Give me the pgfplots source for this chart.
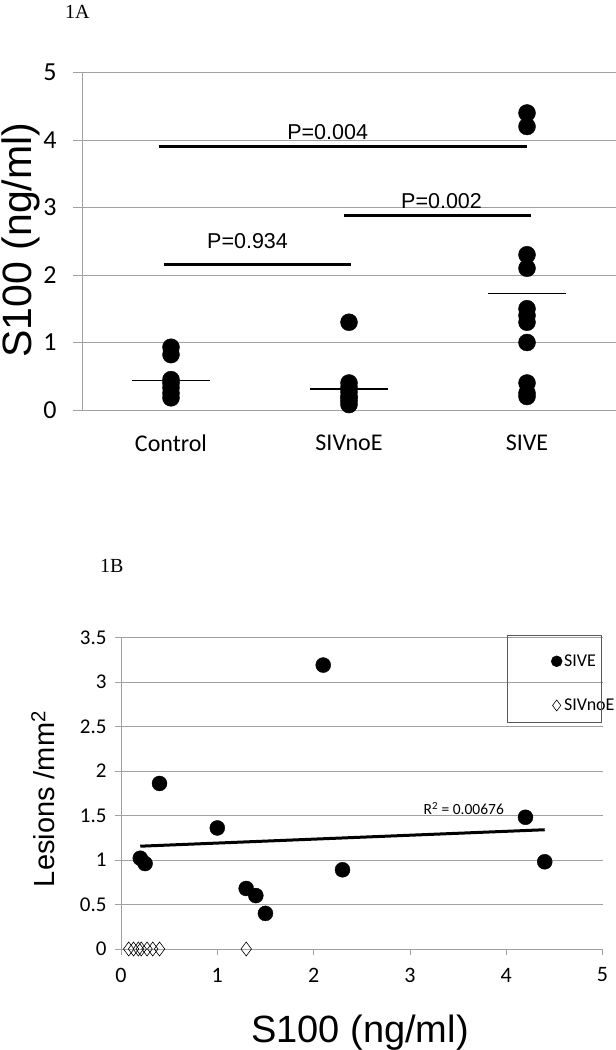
\documentclass[border=0pt]{standalone}
\usepackage{fontspec}
\setmainfont{Liberation Serif}
\newfontfamily\calfont{Carlito}
\newfontfamily\arialfont{Liberation Sans}
\usepackage{pgfplots}
\pgfplotsset{compat=1.18}
\definecolor{gridgray}{RGB}{160,160,160}
\begin{document}
\begin{tikzpicture}[x=1pt,y=1pt]
\useasboundingbox (0,0) rectangle (616,1050);
% ---------------- Panel 1A ----------------
\node[anchor=west, inner sep=0pt, font=\fontsize{20}{22}\selectfont] at (65,1038) {1A};
\node[rotate=90, inner sep=0pt, font=\arialfont\fontsize{41}{44}\selectfont] at (21,810) {S100 (ng/ml)};
\begin{axis}[
  at={(82pt,640pt)}, anchor=south west, scale only axis,
  width=534pt, height=337.5pt,
  xmin=0.5, xmax=3.5, ymin=0, ymax=5,
  axis lines=left,
  axis line style={-, draw=gridgray, line width=0.8pt},
  x axis line style={draw=none},
  xtick={1,2,3}, xticklabels={Control,SIVnoE,SIVE},
  xtick style={draw=none},
  ytick={0,1,2,3,4,5},
  ytick style={draw=gridgray, line width=0.8pt},
  tick align=outside, major tick length=9pt,
  ymajorgrids, grid style={gridgray, line width=0.8pt},
  /pgf/number format/assume math mode=true,
  yticklabel style={font=\calfont\fontsize{26}{30}\selectfont, anchor=center, xshift=-23pt},
  xticklabel style={font=\calfont\fontsize{24}{28}\selectfont, anchor=center, yshift=-24pt},
  clip=false,
]
% Control
\addplot[only marks, mark=*, mark size=8.5pt, black] coordinates {
  (1,0.93) (1,0.82) (1,0.45) (1,0.40) (1,0.33) (1,0.25) (1,0.18)};
% SIVnoE
\addplot[only marks, mark=*, mark size=8.5pt, black] coordinates {
  (2,1.30) (2,0.40) (2,0.33) (2,0.27) (2,0.20) (2,0.18) (2,0.13) (2,0.08)};
% SIVE
\addplot[only marks, mark=*, mark size=8.5pt, black] coordinates {
  (3,4.40) (3,4.20) (3,2.30) (3,2.10) (3,1.50) (3,1.40) (3,1.30) (3,1.00) (3,0.40) (3,0.25) (3,0.20)};
% means
\addplot[black, line width=1.2pt] coordinates {(0.78,0.44) (1.22,0.44)};
\addplot[black, line width=1.2pt] coordinates {(1.78,0.31) (2.22,0.31)};
\addplot[black, line width=1.2pt] coordinates {(2.78,1.73) (3.22,1.73)};
% significance bars
\addplot[black, line width=3pt] coordinates {(0.93,3.90) (3.00,3.90)};
\addplot[black, line width=3pt] coordinates {(1.97,2.88) (3.02,2.88)};
\addplot[black, line width=3pt] coordinates {(0.96,2.15) (2.01,2.15)};
\node[font=\arialfont\fontsize{21.5}{24}\selectfont] at (axis cs:1.88,4.12) {P=0.004};
\node[font=\arialfont\fontsize{21.5}{24}\selectfont] at (axis cs:2.52,3.10) {P=0.002};
\node[font=\arialfont\fontsize{21.5}{24}\selectfont] at (axis cs:1.43,2.50) {P=0.934};
\end{axis}
% ---------------- Panel 1B ----------------
\node[anchor=west, inner sep=0pt, font=\fontsize{20}{22}\selectfont] at (100,484) {1B};
\node[rotate=90, inner sep=0pt, font=\arialfont\fontsize{29}{32}\selectfont] at (43,251) {Lesions /mm\textsuperscript{2}};
\node[inner sep=0pt, font=\arialfont\fontsize{38}{42}\selectfont] at (360,17) {S100 (ng/ml)};
\begin{axis}[
  at={(121pt,101pt)}, anchor=south west, scale only axis,
  width=481.5pt, height=311.5pt,
  xmin=0, xmax=5, ymin=0, ymax=3.5,
  axis lines=left,
  axis line style={-, draw=gridgray, line width=0.8pt},
  xtick={0,1,2,3,4,5},
  ytick={0,0.5,1,1.5,2,2.5,3,3.5},
  tick style={draw=gridgray, line width=0.8pt},
  tick align=outside, major tick length=6pt,
  ymajorgrids, grid style={gridgray, line width=0.8pt},
  /pgf/number format/assume math mode=true,
  yticklabel style={font=\calfont\fontsize{21}{24}\selectfont, anchor=east, xshift=-5pt},
  xticklabel style={font=\calfont\fontsize{22}{25}\selectfont, anchor=center, yshift=-20pt},
  clip=false,
  legend style={at={(axis cs:4.33,3.5)}, anchor=north west, yshift=-2pt,
    draw=none, fill=none,
    font=\calfont\fontsize{18}{21}\selectfont, row sep=27pt, column sep=0pt,
    inner xsep=13pt, inner ysep=13pt, cells={anchor=west, inner xsep=1pt}},
  legend image code/.code={\draw[mark size=5.5pt] plot coordinates {(0pt,0pt)};},
]
\addplot[only marks, mark=*, mark size=7.5pt, black] coordinates {
  (0.20,1.02) (0.25,0.96) (0.40,1.86) (1.00,1.36) (1.30,0.68) (1.40,0.60)
  (1.50,0.40) (2.10,3.19) (2.30,0.89) (4.20,1.48) (4.40,0.98)};
\addlegendentry{SIVE}
\addplot[only marks, mark=diamond, mark size=7pt, black, line width=0.6pt] coordinates {
  (0.08,0) (0.13,0) (0.18,0) (0.21,0) (0.27,0) (0.33,0) (0.40,0) (1.30,0)};
\addlegendentry{SIVnoE}
\addplot[black, line width=3pt, forget plot] coordinates {(0.20,1.155) (4.40,1.34)};
\node[font=\calfont\fontsize{15.5}{18}\selectfont] at (axis cs:3.56,1.58) {R\textsuperscript{2} = 0.00676};
\end{axis}
\draw[black!65, line width=0.8pt] (507,328) rectangle (601,415);
\end{tikzpicture}
\end{document}
